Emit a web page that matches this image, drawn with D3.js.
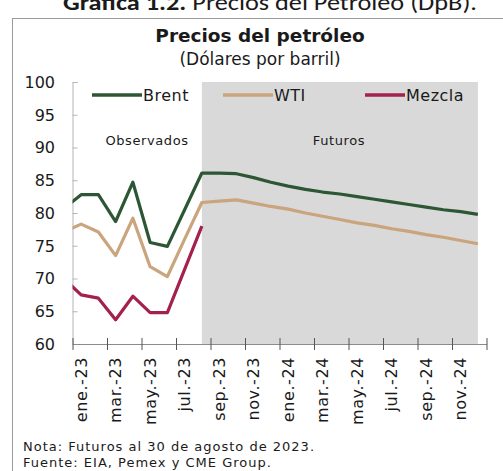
<!DOCTYPE html>
<html>
<head>
<meta charset="utf-8">
<script src="https://cdn.jsdelivr.net/npm/d3@7"></script>
<style>
  body { margin: 0; background: #fff; }
  svg { display: block; }
  text { font-family: "DejaVu Sans", sans-serif; fill: #1a1a1a; }
</style>
</head>
<body>
<div id="vis"></div>
<script>
// oil prices chart, dollars per barrel

const WIDTH = 503;
const HEIGHT = 471;
const PLOT = {left: 72.5, right: 486.5, top: 82, bottom: 344};

// months dic.-22 .. dic.-24 (dic.-22 only feeds the clipped start of the lines)
const months = ["dic.-22",
  "ene.-23","feb.-23","mar.-23","abr.-23","may.-23","jun.-23","jul.-23","ago.-23","sep.-23","oct.-23","nov.-23","dic.-23",
  "ene.-24","feb.-24","mar.-24","abr.-24","may.-24","jun.-24","jul.-24","ago.-24","sep.-24","oct.-24","nov.-24","dic.-24"];

const tickLabels = ["ene.-23","mar.-23","may.-23","jul.-23","sep.-23","nov.-23",
                    "ene.-24","mar.-24","may.-24","jul.-24","sep.-24","nov.-24"];
const yTicks = [60, 65, 70, 75, 80, 85, 90, 95, 100];

// observed dic.-22 .. ago.-23
const brentObs  = [80.7, 82.8, 82.8, 78.7, 84.7, 75.5, 74.9, 80.5, 86.1];
const wtiObs    = [77.1, 78.3, 77.1, 73.5, 79.2, 71.8, 70.3, 76.0, 81.6];
const mezclaObs = [70.0, 67.5, 67.0, 63.7, 67.3, 64.8, 64.8, 71.4, 78.0];
// futures sep.-23 .. dic.-24
const brentFut = [86.1, 86.0, 85.4, 84.7, 84.1, 83.6, 83.2, 82.9, 82.5, 82.1, 81.7, 81.3, 80.9, 80.5, 80.2, 79.8];
const wtiFut   = [81.8, 82.0, 81.5, 81.0, 80.6, 80.0, 79.5, 79.0, 78.5, 78.1, 77.6, 77.2, 76.7, 76.3, 75.8, 75.3];

const seriesNames = ["Brent", "WTI", "Mezcla"];
const seriesColors = ["#2d5634", "#c9a47c", "#a3214c"];
const seriesValues = [brentObs.concat(brentFut), wtiObs.concat(wtiFut), mezclaObs];

const shadeFrom = "ago.-23";
const shadeTo = "dic.-24";

const svg = d3.select("#vis").append("svg")
  .attr("width", WIDTH)
  .attr("height", HEIGHT);

// outer frame of the document figure
svg.append("rect")
  .attr("x", 12.5).attr("y", 18.5)
  .attr("width", 600).attr("height", 600)
  .attr("fill", "none").attr("stroke", "#9a9a9a");

// document caption, cut off at the top
const cap = svg.append("text")
  .attr("x", 63).attr("y", 10)
  .attr("textLength", 414).attr("lengthAdjust", "spacingAndGlyphs")
  .style("font-family", "Carlito, Calibri, 'Liberation Sans', sans-serif")
  .style("font-size", "22px");
cap.append("tspan").attr("font-weight", "bold").text("Gráfica 1.2.");
cap.append("tspan").text(" Precios del Petróleo (DpB).");

// x: month index -> pixel, month centres at integer positions
const X_SCALE = d3.scaleLinear().domain([0.5, 24.5]).range([PLOT.left, PLOT.right]);
const Y_SCALE = d3.scaleLinear().domain([60, 100]).range([PLOT.bottom, PLOT.top]);

// futures shading
svg.append("rect")
  .attr("x", X_SCALE(months.indexOf(shadeFrom)))
  .attr("y", Y_SCALE(100))
  .attr("width", X_SCALE(months.indexOf(shadeTo)) - X_SCALE(months.indexOf(shadeFrom)))
  .attr("height", Y_SCALE(60) - Y_SCALE(100))
  .attr("fill", "#d9d9d9");

svg.append("text").attr("x", 147).attr("y", 145).attr("text-anchor", "middle")
  .style("font-size", "13px").attr("letter-spacing", "0.6").text("Observados");
svg.append("text").attr("x", 339).attr("y", 145).attr("text-anchor", "middle")
  .style("font-size", "13px").attr("letter-spacing", "0.6").text("Futuros");

// y axis
const yAxis = svg.append("g")
  .attr("transform", "translate(" + PLOT.left + ",0)")
  .call(d3.axisRight(Y_SCALE).tickValues(yTicks).tickSize(5).tickFormat(""));
yAxis.select(".domain").attr("stroke", "#b5b5b5");
yAxis.selectAll(".tick line").attr("stroke", "#b5b5b5");

svg.selectAll(".ylab")
  .data(yTicks)
  .enter()
  .append("text")
    .attr("class", "ylab")
    .attr("x", 55)
    .attr("y", (d) => Y_SCALE(d))
    .attr("dy", "0.36em")
    .attr("text-anchor", "end")
    .style("font-size", "16px")
    .text((d) => d);

// x axis, ticks between every second month
const xTickPos = d3.range(0, 13).map((i) => 0.5 + i * 2);
const xAxis = svg.append("g")
  .attr("transform", "translate(0," + PLOT.bottom + ")")
  .call(d3.axisBottom(X_SCALE).tickValues(xTickPos).tickSize(6).tickSizeOuter(0).tickFormat(""));
xAxis.select(".domain").attr("stroke", "#8c8c8c");
xAxis.selectAll(".tick line").attr("stroke", "#555").attr("y1", -6);

svg.selectAll(".xlab")
  .data(tickLabels)
  .enter()
  .append("text")
    .attr("class", "xlab")
    .attr("transform", (d) => "translate(" + X_SCALE(months.indexOf(d)) + "," + (PLOT.bottom + 13) + ") rotate(-90)")
    .attr("dy", "0.36em")
    .attr("text-anchor", "end")
    .style("font-size", "16px")
    .attr("letter-spacing", "0.6")
    .text((d) => d);

// lines, clipped to the plot area
svg.append("clipPath").attr("id", "plotclip")
  .append("rect")
    .attr("x", PLOT.left).attr("y", 0)
    .attr("width", PLOT.right - PLOT.left).attr("height", HEIGHT);

const line = d3.line()
  .x((d, i) => X_SCALE(i))
  .y((d) => Y_SCALE(d));

svg.append("g").attr("clip-path", "url(#plotclip)")
  .selectAll("path")
  .data(seriesValues)
  .enter()
  .append("path")
    .attr("d", (d) => line(d))
    .attr("fill", "none")
    .attr("stroke", (d, i) => seriesColors[i])
    .attr("stroke-width", 3.2)
    .attr("stroke-linejoin", "round");

// legend
const legendX = [92, 223, 365];
const legendW = [50, 50, 40];
const legend = svg.selectAll(".leg")
  .data(seriesNames)
  .enter()
  .append("g")
    .attr("class", "leg")
    .attr("transform", (d, i) => "translate(" + legendX[i] + ",95)");
legend.append("line")
  .attr("x1", 0).attr("x2", (d, i) => legendW[i])
  .attr("stroke", (d, i) => seriesColors[i])
  .attr("stroke-width", 3.5);
legend.append("text")
  .attr("x", (d, i) => legendW[i] + 1)
  .attr("dy", "0.36em")
  .style("font-size", "16px")
  .attr("letter-spacing", "0.5")
  .text((d) => d);

// titles
svg.append("text").attr("x", 260).attr("y", 42).attr("text-anchor", "middle")
  .style("font-size", "18.5px").style("font-weight", "bold").text("Precios del petróleo");
svg.append("text").attr("x", 260).attr("y", 65).attr("text-anchor", "middle")
  .style("font-size", "17px").text("(Dólares por barril)");

// notes
svg.append("text").attr("x", 23).attr("y", 451)
  .style("font-size", "13px").attr("letter-spacing", "1").text("Nota: Futuros al 30 de agosto de 2023.");
svg.append("text").attr("x", 23).attr("y", 467)
  .style("font-size", "13px").attr("letter-spacing", "1").text("Fuente: EIA, Pemex y CME Group.");
</script>
</body>
</html>
